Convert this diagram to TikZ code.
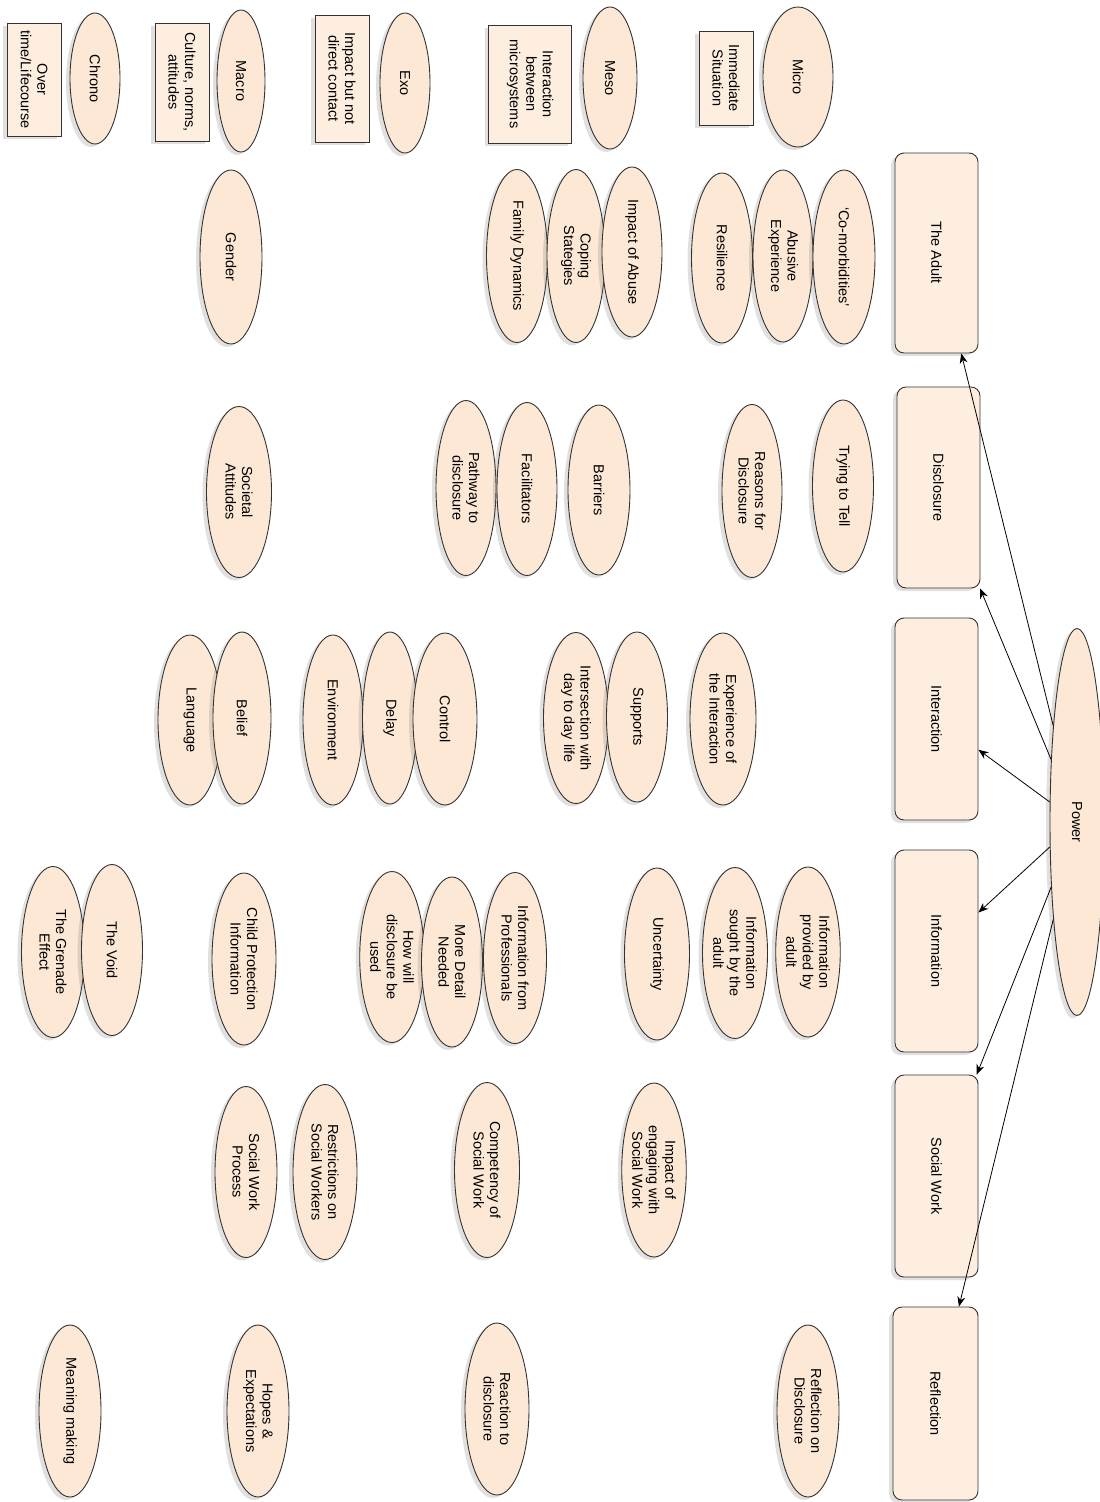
\documentclass[tikz,border=0pt]{standalone}
\usepackage{fontspec}
\setmainfont{Liberation Sans}
\usetikzlibrary{shapes.geometric,arrows.meta,shadows}
\definecolor{peachE}{HTML}{FCE8D4}
\definecolor{peachB}{HTML}{FDEEE0}
\definecolor{edgegray}{HTML}{333333}
\begin{document}
\begin{tikzpicture}[x=1pt,y=-1pt,
  base/.style={draw=edgegray, line width=0.9pt, rotate=-90, align=center, inner sep=1pt,
     font=\fontsize{14.5}{16.5}\selectfont,
     drop shadow={shadow xshift=-4pt, shadow yshift=-3pt, opacity=0.2, fill=black!60}},
  ell/.style={base, ellipse, fill=peachE},
  lbox/.style={base, rectangle, fill=peachB},
  bigbox/.style={base, rectangle, rounded corners=9pt, fill=peachB},
  arr/.style={-{Stealth[length=10pt,width=8pt]}, line width=0.8pt, black},
]
\useasboundingbox (0,0) rectangle (1100,1502);

% ---- legend row ----
\node[lbox, minimum width=113, minimum height=54] (overtime) at (34,79.5) {Over\\time/Lifecourse};
\node[ell, minimum width=131, minimum height=50] (chrono) at (95,78.5) {Chrono};
\node[lbox, minimum width=118, minimum height=54] (culture) at (182,82) {Culture, norms,\\attitudes};
\node[ell, minimum width=142, minimum height=48] (macro) at (241,81) {Macro};
\node[lbox, minimum width=127, minimum height=54] (impactbox) at (342,78.5) {Impact but not\\direct contact};
\node[ell, minimum width=140, minimum height=50] (exo) at (405,83) {Exo};
\node[lbox, minimum width=118, minimum height=83] (microsys) at (530,84) {Interaction\\between\\microsystems};
\node[ell, minimum width=142, minimum height=54] (meso) at (610,78) {Meso};
\node[lbox, minimum width=94, minimum height=54] (immediate) at (726,78) {Immediate\\Situation};
\node[ell, minimum width=140, minimum height=70] (micro) at (798,77) {Micro};

% ---- main boxes ----
\node[bigbox, minimum width=200, minimum height=83] (adult) at (936.5,253) {The Adult};
\node[bigbox, minimum width=201, minimum height=83] (disclosure) at (938.5,487.5) {Disclosure};
\node[bigbox, minimum width=202, minimum height=83] (interaction) at (936.5,719) {Interaction};
\node[bigbox, minimum width=202, minimum height=83] (information) at (936.5,951) {Information};
\node[bigbox, minimum width=202, minimum height=83] (socialwork) at (936.5,1176) {Social Work};
\node[bigbox, minimum width=193, minimum height=85] (reflection) at (935.5,1403.5) {Reflection};
\node[ell, minimum width=387, minimum height=54] (power) at (1077,822) {Power};

% ---- The Adult column ----
\node[ell, minimum width=174, minimum height=62] (gender) at (231,257) {Gender};
\node[ell, minimum width=173, minimum height=61] (famdyn) at (517,256) {Family Dynamics};
\node[ell, minimum width=173, minimum height=58] (coping) at (576,256) {Coping\\Stategies};
\node[ell, minimum width=170, minimum height=60] (impabuse) at (632,252) {Impact of Abuse};
\node[ell, minimum width=170, minimum height=61] (resil) at (722,258) {Resilience};
\node[ell, minimum width=172, minimum height=60] (abusive) at (783,256) {Abusive\\Experience};
\node[ell, minimum width=174, minimum height=62] (comorb) at (844,257) {‘Co-morbidities’};

% ---- Disclosure column ----
\node[ell, minimum width=171, minimum height=65] (societal) at (239,492) {Societal\\Attitudes};
\node[ell, minimum width=175, minimum height=60] (pathway) at (466,488) {Pathway to\\disclosure};
\node[ell, minimum width=173, minimum height=60] (facil) at (527,489) {Facilitators};
\node[ell, minimum width=170, minimum height=62] (barriers) at (599,490) {Barriers};
\node[ell, minimum width=173, minimum height=60] (reasons) at (752,491) {Reasons for\\Disclosure};
\node[ell, minimum width=172, minimum height=61] (trying) at (843,486) {Trying to Tell};

% ---- Interaction column ----
\node[ell, minimum width=170, minimum height=64] (language) at (190,720) {Language};
\node[ell, minimum width=172, minimum height=58] (belief) at (242,718) {Belief};
\node[ell, minimum width=170, minimum height=60] (environment) at (333,720) {Environment};
\node[ell, minimum width=172, minimum height=55] (delay) at (390,718) {Delay};
\node[ell, minimum width=172, minimum height=64] (control) at (445,719) {Control};
\node[ell, minimum width=171, minimum height=65] (intersection) at (576,718) {Intersection with\\day to day life};
\node[ell, minimum width=170, minimum height=61] (supports) at (637,717) {Supports};
\node[ell, minimum width=172, minimum height=66] (experience) at (723,719) {Experience of\\the Interaction};

% ---- Information column ----
\node[ell, minimum width=171, minimum height=63] (grenade) at (53,952) {The Grenade\\Effect};
\node[ell, minimum width=171, minimum height=61] (void) at (112,950) {The Void};
\node[ell, minimum width=172, minimum height=64] (childprot) at (244,959) {Child Protection\\Information};
\node[ell, minimum width=171, minimum height=59] (howwill) at (392,957) {How will\\disclosure be\\used};
\node[ell, minimum width=170, minimum height=61] (moredetail) at (452,962) {More Detail\\Needed};
\node[ell, minimum width=171, minimum height=63] (infoprof) at (515,958) {Information from\\Professionals};
\node[ell, minimum width=172, minimum height=65] (uncertainty) at (657,954) {Uncertainty};
\node[ell, minimum width=171, minimum height=65] (sought) at (735,953) {Information\\sought by the\\adult};
\node[ell, minimum width=170, minimum height=63] (provided) at (808,952) {Information\\provided by\\adult};

% ---- Social Work column ----
\node[ell, minimum width=171, minimum height=62] (swprocess) at (246,1172) {Social Work\\Process};
\node[ell, minimum width=175, minimum height=64] (restrict) at (325,1172) {Restrictions on\\Social Workers};
\node[ell, minimum width=175, minimum height=65] (competency) at (487,1170) {Competency of\\Social Work};
\node[ell, minimum width=174, minimum height=62] (impengage) at (654,1170) {Impact of\\engaging with\\Social Work};

% ---- Reflection column ----
\node[ell, minimum width=172, minimum height=62] (meaning) at (70,1411) {Meaning making};
\node[ell, minimum width=172, minimum height=62] (hopes) at (258,1411) {Hopes \&\\Expectations};
\node[ell, minimum width=172, minimum height=64] (reaction) at (497,1409) {Reaction to\\disclosure};
\node[ell, minimum width=172, minimum height=62] (reflon) at (808,1411) {Reflection on\\Disclosure};

% ---- connectors ----
\draw[arr] (power) -- (adult);
\draw[arr] (power) -- (disclosure);
\draw[arr] (power) -- (interaction);
\draw[arr] (power) -- (information);
\draw[arr] (power) -- (socialwork);
\draw[arr] (power) -- (reflection);
\end{tikzpicture}
\end{document}
